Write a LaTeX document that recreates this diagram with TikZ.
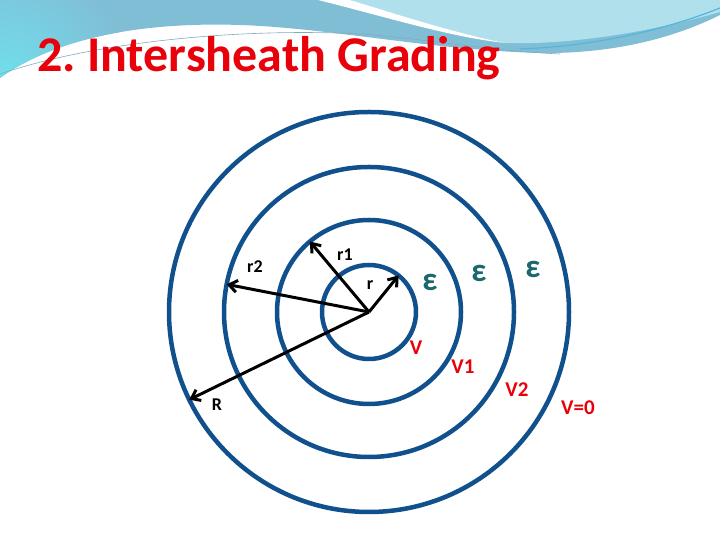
\documentclass[tikz,border=0pt]{standalone}
\usepackage{fontspec}
\setmainfont{Carlito}
\usepackage{xcolor}
\usepackage{tikz}
\usetikzlibrary{arrows.meta,calc}

\definecolor{ringblue}{RGB}{16,80,140}
\definecolor{titlered}{RGB}{232,0,10}
\definecolor{epsteal}{RGB}{28,104,110}
\definecolor{topblue}{RGB}{128,190,214}
\definecolor{topcyan}{RGB}{112,224,236}
\definecolor{palecyan}{RGB}{176,224,236}
\definecolor{streakblue}{RGB}{84,182,218}

\begin{document}
\begin{tikzpicture}[x=1pt,y=1pt,
    ring/.style={circle, draw=ringblue, line width=4.5pt, inner sep=0pt, outer sep=0pt},
    radius arrow/.style={-{Straight Barb[length=8pt,width=12pt]}, line width=3pt},
    lbl/.style={font=\bfseries\fontsize{18}{20}\selectfont, inner sep=0pt},
    volt/.style={text=titlered, font=\bfseries\fontsize{21}{23}\selectfont, inner sep=0pt},
    eps/.style={text=epsteal, font=\bfseries\fontsize{33}{35}\selectfont, inner sep=0pt}]
    % Page frame
    \useasboundingbox (0,0) rectangle (720,540);
    \fill[white] (0,0) rectangle (720,540);

    % Draw top band
    \begin{scope}
        \clip (0,540) -- (720,540) -- (720,525) .. controls (680,505) and (620,486) .. (540,487)
            .. controls (430,490) and (330,512) .. (240,515) .. controls (150,518) and (60,505) .. (0,462) -- cycle;
        \fill[topblue] (0,450) rectangle (720,540);
        \shade[inner color=topcyan, outer color=topblue] (0,455) circle (130pt);
    \end{scope}
    \fill[palecyan] (350,540) -- (720,540) -- (720,528) .. controls (640,505) and (560,495) .. (505,497)
        .. controls (450,508) and (390,528) .. (350,540) -- cycle;
    \fill[white] (318,540) .. controls (390,522) and (450,503) .. (505,497)
        .. controls (450,508) and (390,528) .. (350,540) -- cycle;
    \draw[streakblue, line width=1.2pt] (520,491) .. controls (600,494) and (670,512) .. (720,532);
    \draw[topblue!70!gray, line width=0.6pt] (0,466) .. controls (100,500) and (250,512) .. (360,506)
        .. controls (430,501) and (480,490) .. (560,486);

    % Title
    \node[anchor=base west, inner sep=0pt, text=titlered, font=\bfseries\fontsize{50}{56}\selectfont] (title) at (37,468) {2.\ Intersheath Grading};

    % Draw conductor and sheaths
    \coordinate (c) at (369,228);
    \node[ring, minimum size=94pt] (core) at (c) {};
    \node[ring, minimum size=184pt] (sheathI) at (c) {};
    \node[ring, minimum size=290pt] (sheathII) at (c) {};
    \node[ring, minimum size=400pt] (outer) at (c) {};

    % Draw radius arrows
    \draw[radius arrow] (c) -- (core.51);
    \draw[radius arrow] (c) -- (sheathI.130);
    \draw[radius arrow] (c) -- (sheathII.169);
    \draw[radius arrow] (c) -- (outer.206);

    % Radius labels
    \node[lbl] (lr) at (370,255) {r};
    \node[lbl] (lrI) at (345,285) {r1};
    \node[lbl] (lrII) at (255,273) {r2};
    \node[lbl] (lR) at (217,135) {R};

    % Permittivity labels
    \node[eps] (epsI) at (430,258) {ε};
    \node[eps] (epsII) at (479,267) {ε};
    \node[eps] (epsIII) at (533,271) {ε};

    % Potential labels
    \node[volt] (vc) at (416,192) {V};
    \node[volt] (vI) at (463,173) {V1};
    \node[volt] (vII) at (517,150) {V2};
    \node[volt] (vO) at (578,132) {V=0};
\end{tikzpicture}
\end{document}
